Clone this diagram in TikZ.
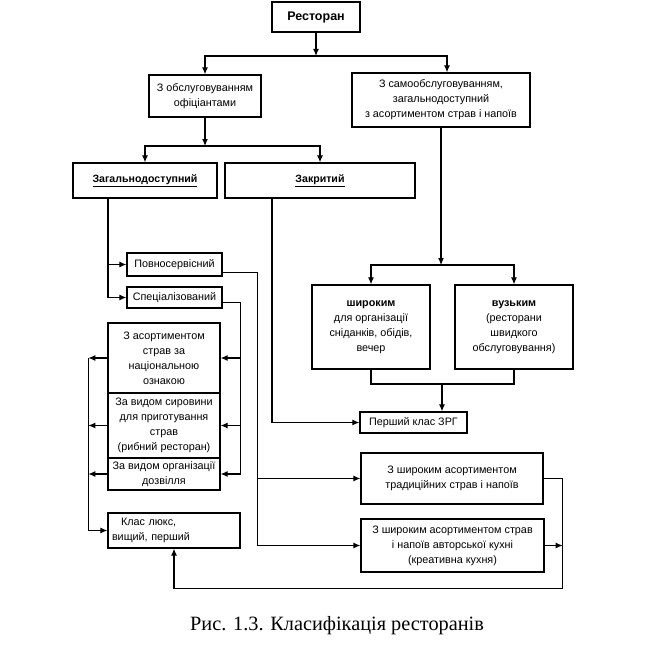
\documentclass[tikz,border=0pt]{standalone}
\usepackage{fontspec}
\setmainfont{Liberation Sans}
\newfontfamily\capfont{Liberation Serif}
\usetikzlibrary{arrows.meta}
\tikzset{
  box/.style={draw, line width=1.3pt, inner sep=1pt, align=center, font=\fontsize{10.8}{15}\selectfont},
  boldbox/.style={box, font=\fontsize{10.6}{14}\selectfont\bfseries},
  ln/.style={line width=1.1pt},
  arr/.style={ln, -{Latex[length=7pt,width=6pt]}},
}
\begin{document}
\begin{tikzpicture}[x=1pt,y=-1pt]
\useasboundingbox[fill=white] (0,0) rectangle (666,650);
% boxes
\node[box, minimum width=88, minimum height=30, font=\fontsize{12.5}{14}\selectfont\bfseries] (rest) at (316,17) {Ресторан};
\node[box, minimum width=112, minimum height=42] (ofic) at (205,96) {З обслуговуванням\\офіціантами};
\node[box, minimum width=178, minimum height=54] (self) at (441,100) {З самообслуговуванням,\\загальнодоступний\\з асортиментом страв і напоїв};
\node[boldbox, minimum width=144, minimum height=35] (zag) at (145,180.5) {\underline{Загальнодоступний}};
\node[boldbox, minimum width=190, minimum height=35] (zakr) at (320,180.5) {\underline{Закритий}};
\node[box, minimum width=95, minimum height=23] (povn) at (174.5,264.5) {Повносервісний};
\node[box, minimum width=95, minimum height=21] (spec) at (174.5,297.5) {Спеціалізований};
\node[box, minimum width=112, minimum height=70] (nat) at (164,358) {З асортиментом\\страв за\\національною\\ознакою};
\node[box, minimum width=112, minimum height=65] (syr) at (164,425.5) {За видом сировини\\для приготування\\страв\\(рибний ресторан)};
\node[box, minimum width=112, minimum height=32] (dozv) at (164,474) {За видом організації\\дозвілля};
\node[box, minimum width=132, minimum height=35, align=left, text width=124] (klas) at (174,530.5) {\hspace*{9pt}Клас люкс,\\вищий, перший};
\node[box, minimum width=118, minimum height=84] (shyr) at (371,327) {\textbf{широким}\\для організації\\сніданків, обідів,\\вечер};
\node[box, minimum width=118, minimum height=84] (vuz) at (514,327) {\textbf{вузьким}\\(ресторани\\швидкого\\обслуговування)};
\node[box, minimum width=107, minimum height=21] (pershyi) at (413.5,422.5) {Перший клас ЗРГ};
\node[box, minimum width=182, minimum height=51] (trad) at (452,478.5) {З широким асортиментом\\традиційних страв і напоїв};
\node[box, minimum width=183, minimum height=53] (avt) at (452.5,545.5) {З широким асортиментом страв\\і напоїв авторської кухні\\(креативна кухня)};
\node[font=\capfont\fontsize{20.3}{24}\selectfont] (cap) at (337,626) {Рис. 1.3. Класифікація ресторанів};
% junctions
\coordinate (j1) at (316,56);
\coordinate (j2) at (205,146);
\coordinate (j3) at (441,265);
\coordinate (j4) at (442,384);
% connectors
\draw[arr] (rest.south) -- (j1);
\draw[arr] (j1) -| (ofic.north);
\draw[arr] (j1) -| ([xshift=6pt]self.north);
\draw[arr] (ofic.south) -- (j2);
\draw[arr] (j2) -| (zag.north);
\draw[arr] (j2) -| (zakr.north);
\draw[arr] (self.south) -- (j3);
\draw[arr] (j3) -| (shyr.north);
\draw[arr] (j3) -| (vuz.north);
\draw[ln] (shyr.south) |- (j4) -| (vuz.south);
\draw[arr] (j4) -- (j4 |- pershyi.north);
\draw[arr] ([xshift=-48pt]zakr.south) |- (pershyi.west);
\draw[arr] ([xshift=-37pt]zag.south) |- (povn.west);
\draw[arr] ([xshift=-37pt]zag.south) |- (spec.west);
\draw[arr] ([yshift=-8pt]povn.east) -- ++(35,0) |- (trad.west);
\draw[arr] ([yshift=-8pt]povn.east) -- ++(35,0) |- (avt.west);
\draw[arr] ([yshift=-5pt]spec.east) -- ++(18,0) |- (nat.east);
\draw[arr] ([yshift=-5pt]spec.east) -- ++(18,0) |- (syr.east);
\draw[arr] ([yshift=-5pt]spec.east) -- ++(18,0) |- (dozv.east);
\draw[arr] (nat.west) -- ++(-19,0);
\draw[arr] (syr.west) -- ++(-19,0);
\draw[arr] (dozv.west) -- ++(-19,0);
\draw[arr] ([xshift=-19pt]nat.west) |- (klas.west);
\draw[arr] (trad.east) -- ++(19,0) -- ++(0,110) -| (klas.south);
\draw[arr] (avt.east) -- ++(18,0);
\end{tikzpicture}
\end{document}
